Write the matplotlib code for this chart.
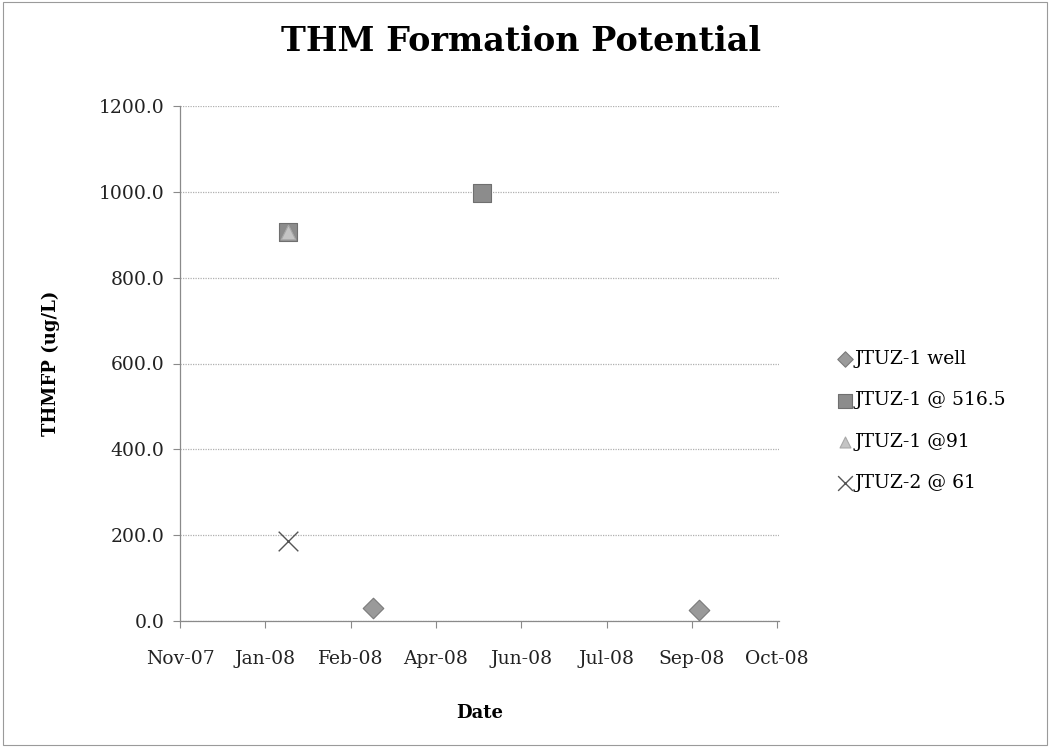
import datetime as dt
import matplotlib
matplotlib.use('Agg')
import matplotlib.pyplot as plt
import matplotlib.dates as mdates

# data
well_dates = [dt.date(2008, 3, 7), dt.date(2008, 9, 14)]
well_vals = [30, 26]
d516_dates = [dt.date(2008, 1, 17), dt.date(2008, 5, 10)]
d516_vals = [907, 997]
d91_dates = [dt.date(2008, 1, 17)]
d91_vals = [907]
j2_dates = [dt.date(2008, 1, 17)]
j2_vals = [186]

x_start = dt.date(2007, 11, 15)
x_end = dt.date(2008, 10, 31)
tick_step_days = 50
y_ticks = [0, 200, 400, 600, 800, 1000, 1200]

plt.rcParams['font.family'] = ['DejaVu Serif']

fig = plt.figure(figsize=(10.5, 7.47), dpi=100)
ax = fig.add_axes([180 / 1050, 1 - 621 / 747, (779 - 180) / 1050, (621 - 106) / 747])

ax.scatter(well_dates, well_vals, marker='D', s=110, color='#9a9a9a', edgecolors='#7a7a7a',
           linewidths=0.8, label='JTUZ-1 well', zorder=3)
ax.scatter(d516_dates, d516_vals, marker='s', s=180, color='#8c8c8c', edgecolors='#6f6f6f',
           linewidths=0.8, label='JTUZ-1 @ 516.5', zorder=3)
ax.scatter(d91_dates, d91_vals, marker='^', s=110, color='#c4c4c4', edgecolors='#a8a8a8',
           linewidths=0.8, label='JTUZ-1 @91', zorder=4)
ax.scatter(j2_dates, j2_vals, marker='x', s=200, color='#555555', linewidths=1.0,
           label='JTUZ-2 @ 61', zorder=3)

ticks = [x_start + dt.timedelta(days=tick_step_days * i) for i in range(8)]
ax.set_xlim(x_start, x_end)
ax.set_xticks(ticks)
ax.xaxis.set_major_formatter(mdates.DateFormatter('%b-%y'))
ax.set_ylim(0, 1200)
ax.set_yticks(y_ticks)
ax.set_yticklabels([f'{v:.1f}' for v in y_ticks])

ax.grid(axis='y', color='#b0b0b0', linestyle=(0, (1, 1)), linewidth=0.9)
ax.set_axisbelow(True)
for s in ['top', 'right']:
    ax.spines[s].set_visible(False)
for s in ['left', 'bottom']:
    ax.spines[s].set_color('#8a8a8a')
    ax.spines[s].set_linewidth(0.9)
ax.tick_params(axis='both', colors='#8a8a8a', labelcolor='#222222', labelsize=13.5, length=5, width=0.8)
ax.tick_params(axis='x', pad=16)
ax.tick_params(axis='y', pad=6)

ax.set_xlabel('Date', fontsize=13, fontweight='bold', labelpad=26)
ax.set_ylabel('THMFP (ug/L)', fontsize=13, fontweight='bold', labelpad=28)
fig.text(0.496, 0.944, 'THM Formation Potential', ha='center', va='center',
         fontsize=24, fontweight='bold')

ax.legend(loc='center left', bbox_to_anchor=(1.085, 0.388), frameon=False, fontsize=13.5,
          handletextpad=0.1, labelspacing=1.25, handlelength=0.8, borderaxespad=0,
          markerscale=0.75)

fig.patches.append(plt.Rectangle((0.003, 0.003), 0.994, 0.994, transform=fig.transFigure,
                                 fill=False, edgecolor='#9a9a9a', linewidth=0.8))

fig.savefig('out.png', dpi=100)
